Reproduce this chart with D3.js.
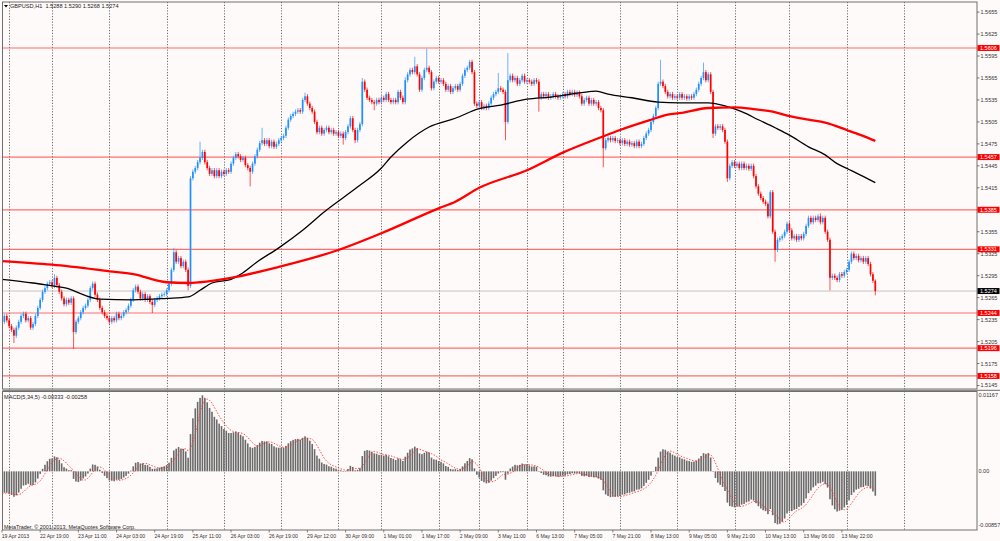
<!DOCTYPE html>
<html><head><meta charset="utf-8">
<script src="https://cdn.jsdelivr.net/npm/d3@7/dist/d3.min.js"></script>
<style>html,body{margin:0;padding:0;background:#fffafa;}svg{display:block;}</style>
</head><body>
<svg id="c" width="1000" height="541"></svg>
<script>
// ---------------- DATA ----------------
const symbolName = "GBPUSD,H1";
const lastOHLC = [1.5288, 1.5290, 1.5268, 1.5274];
const macdHeaderValues = [-0.00333, -0.00258];
const firstOpen = 1.5251;
const closes = [
1.5232,1.5240,1.5234,1.5226,1.5221,1.5213,1.5224,1.5232,1.5240,1.5243,
1.5234,1.5237,1.5224,1.5229,1.5240,1.5251,1.5262,1.5273,1.5278,1.5284,
1.5286,1.5281,1.5292,1.5282,1.5273,1.5264,1.5256,1.5262,1.5258,1.5264,
1.5218,1.5232,1.5237,1.5245,1.5251,1.5254,1.5262,1.5278,1.5284,1.5269,
1.5262,1.5251,1.5245,1.5240,1.5237,1.5232,1.5237,1.5234,1.5243,1.5237,
1.5240,1.5245,1.5248,1.5254,1.5262,1.5275,1.5280,1.5273,1.5264,1.5270,
1.5262,1.5267,1.5259,1.5255,1.5262,1.5264,1.5267,1.5269,1.5270,1.5275,
1.5284,1.5303,1.5327,1.5314,1.5319,1.5308,1.5314,1.5303,1.5281,1.5428,
1.5437,1.5442,1.5450,1.5456,1.5464,1.5450,1.5442,1.5434,1.5439,1.5431,
1.5439,1.5431,1.5437,1.5434,1.5439,1.5437,1.5448,1.5456,1.5461,1.5458,
1.5453,1.5456,1.5446,1.5442,1.5437,1.5448,1.5458,1.5467,1.5476,1.5480,
1.5475,1.5480,1.5472,1.5478,1.5471,1.5475,1.5480,1.5483,1.5486,1.5497,
1.5508,1.5513,1.5516,1.5519,1.5521,1.5519,1.5535,1.5540,1.5530,1.5524,
1.5519,1.5505,1.5491,1.5497,1.5489,1.5494,1.5497,1.5491,1.5494,1.5489,
1.5491,1.5486,1.5489,1.5483,1.5491,1.5499,1.5510,1.5494,1.5480,1.5494,
1.5502,1.5560,1.5549,1.5538,1.5535,1.5532,1.5530,1.5535,1.5532,1.5538,
1.5535,1.5543,1.5535,1.5532,1.5535,1.5532,1.5546,1.5538,1.5532,1.5562,
1.5570,1.5576,1.5573,1.5581,1.5570,1.5549,1.5565,1.5576,1.5579,1.5573,
1.5551,1.5560,1.5565,1.5560,1.5562,1.5557,1.5549,1.5554,1.5546,1.5551,
1.5554,1.5549,1.5557,1.5568,1.5576,1.5579,1.5587,1.5573,1.5530,1.5527,
1.5532,1.5524,1.5527,1.5524,1.5530,1.5538,1.5543,1.5546,1.5551,1.5549,
1.5546,1.5505,1.5562,1.5568,1.5562,1.5565,1.5557,1.5562,1.5568,1.5560,
1.5562,1.5560,1.5557,1.5562,1.5560,1.5538,1.5543,1.5540,1.5543,1.5538,
1.5540,1.5543,1.5540,1.5538,1.5540,1.5543,1.5540,1.5546,1.5543,1.5546,
1.5542,1.5545,1.5540,1.5530,1.5535,1.5538,1.5530,1.5535,1.5530,1.5532,
1.5524,1.5521,1.5469,1.5480,1.5483,1.5480,1.5483,1.5479,1.5480,1.5476,
1.5480,1.5475,1.5478,1.5474,1.5476,1.5472,1.5478,1.5472,1.5475,1.5483,
1.5489,1.5494,1.5505,1.5513,1.5524,1.5557,1.5560,1.5554,1.5546,1.5540,
1.5543,1.5538,1.5540,1.5538,1.5543,1.5538,1.5540,1.5537,1.5540,1.5538,
1.5543,1.5549,1.5557,1.5565,1.5573,1.5562,1.5570,1.5546,1.5489,1.5499,
1.5497,1.5499,1.5494,1.5478,1.5428,1.5445,1.5450,1.5445,1.5448,1.5442,
1.5448,1.5442,1.5445,1.5441,1.5445,1.5431,1.5417,1.5407,1.5401,1.5396,
1.5393,1.5376,1.5409,1.5355,1.5330,1.5344,1.5346,1.5349,1.5355,1.5366,
1.5357,1.5346,1.5349,1.5344,1.5349,1.5346,1.5352,1.5363,1.5374,1.5368,
1.5374,1.5371,1.5376,1.5368,1.5374,1.5355,1.5344,1.5292,1.5295,1.5292,
1.5289,1.5297,1.5295,1.5300,1.5303,1.5314,1.5325,1.5319,1.5322,1.5316,
1.5319,1.5314,1.5319,1.5311,1.5297,1.5288,1.5274
];
const spikeHigh = {22:1.5297,72:1.5333,83:1.5478,109:1.5497,127:1.5545,151:1.5565,169:1.5566,173:1.5594,178:1.5605,196:1.5590,208:1.5572,212:1.5599,276:1.5590,294:1.5586,343:1.5380,366:1.5290};
const spikeLow = {5:1.5203,30:1.5195,63:1.5244,78:1.5275,104:1.5417,143:1.5474,148:1.5476,156:1.5521,211:1.5480,225:1.5519,252:1.5443,298:1.5483,304:1.5423,324:1.5314,347:1.5275,366:1.5268};

const maBlackIdx = [0,13,21,27,34,41,55,69,78,83,88,96,101,107,116,126,135,149,159,163,170,179,190,200,209,220,230,243,249,254,264,275,284,296,303,310,317,324,330,338,345,350,355,360,366];
const maBlackVal = [1.5290,1.5285,1.5281,1.5278,1.5269,1.5263,1.5262,1.5264,1.5266,1.5275,1.5285,1.5290,1.5299,1.5314,1.5333,1.5357,1.5382,1.5416,1.5442,1.5457,1.5478,1.5498,1.5510,1.5523,1.5528,1.5536,1.5539,1.5545,1.5547,1.5543,1.5538,1.5532,1.5531,1.5531,1.5527,1.5519,1.5508,1.5497,1.5487,1.5471,1.5460,1.5448,1.5440,1.5432,1.5422];
const maRedIdx = [0,21,45,55,69,78,83,96,116,140,159,183,190,200,220,235,251,259,272,279,284,296,307,316,323,330,338,345,354,360,366];
const maRedVal = [1.5315,1.5310,1.5301,1.5297,1.5286,1.5285,1.5286,1.5292,1.5307,1.5329,1.5353,1.5387,1.5396,1.5415,1.5439,1.5463,1.5484,1.5494,1.5508,1.5515,1.5517,1.5524,1.5525,1.5522,1.5519,1.5513,1.5508,1.5504,1.5494,1.5487,1.5479];

const levels = [1.5606,1.5457,1.5385,1.5331,1.5244,1.5196,1.5158];
const currentPrice = 1.5274;
const priceTicks = [1.5145,1.5175,1.5205,1.5235,1.5265,1.5295,1.5325,1.5355,1.5385,1.5415,1.5445,1.5475,1.5505,1.5535,1.5565,1.5595,1.5625,1.5655];
const timeLabels = ["19 Apr 2013","22 Apr 19:00","23 Apr 11:00","24 Apr 03:00","24 Apr 19:00","25 Apr 11:00","26 Apr 03:00","26 Apr 19:00","29 Apr 12:00","30 Apr 09:00","1 May 01:00","1 May 17:00","2 May 09:00","3 May 11:00","6 May 13:00","7 May 05:00","7 May 21:00","8 May 13:00","9 May 05:00","9 May 21:00","10 May 13:00","13 May 06:00","13 May 22:00"];
const labelEvery = 16;
const gridBars = [3,21,45,69,93,117,141,159,183,200,220,235,259,283,307,330,354,378];
const macdParams = [5,34,5];
const macdSeedFast = 1.5245, macdSeedSlow = 1.5276;
const macdRange = [-0.00857, 0.01167];
const macdAxisLabels = ["0.01167","0.00","-0.00857"];

// ---------------- LAYOUT ----------------
const L = 2.5, R = 977, T = 2, MB = 389, ST = 391.5, SB = 530;
const FONT = "'Liberation Sans', Arial, sans-serif";
const N = closes.length;
const svg = d3.select("#c");
svg.append("rect").attr("width",1000).attr("height",541).attr("fill","#fffafa");

const x = d3.scaleLinear().domain([0, N-1]).range([2, 875.3]);
const y = d3.scaleLinear().domain([1.51402, 1.56688]).range([MB, T]);
const ym = d3.scaleLinear().domain(macdRange).range([SB, ST]);

const defs = svg.append("defs");
defs.append("clipPath").attr("id","cm").append("rect").attr("x",L).attr("y",T).attr("width",R-L).attr("height",MB-T);
defs.append("clipPath").attr("id","cs").append("rect").attr("x",L).attr("y",ST).attr("width",R-L).attr("height",SB-ST);

// grid (dotted verticals)
svg.append("g").selectAll("line").data(gridBars).join("line")
  .attr("x1",d=>Math.round(x(d))+0.5).attr("x2",d=>Math.round(x(d))+0.5)
  .attr("y1",T).attr("y2",SB)
  .attr("stroke","#4a4a4a").attr("stroke-width",0.8).attr("stroke-dasharray","1.2,1.6");

// level lines
const gm = svg.append("g").attr("clip-path","url(#cm)");
gm.selectAll("line.lv").data(levels).join("line").attr("class","lv")
  .attr("x1",L).attr("x2",R).attr("y1",d=>y(d)).attr("y2",d=>y(d))
  .attr("stroke","#ff5555").attr("stroke-opacity",0.85).attr("stroke-width",1.2);
gm.append("line").attr("x1",L).attr("x2",R).attr("y1",y(currentPrice)).attr("y2",y(currentPrice))
  .attr("stroke","#c4c4c4").attr("stroke-width",1);

// candles
const bars = closes.map((c,i)=>{
  const o = i===0 ? firstOpen : (i===N-1 ? lastOHLC[0] : closes[i-1]);
  const wickPad = 0.0003;
  const h = spikeHigh[i] !== undefined ? spikeHigh[i] : Math.max(o,c)+wickPad;
  const l = spikeLow[i] !== undefined ? spikeLow[i] : Math.min(o,c)-wickPad;
  return {i,o,c,h,l,up:c>=o};
});
const cg = gm.append("g");
cg.selectAll("line").data(bars).join("line")
  .attr("x1",d=>x(d.i)).attr("x2",d=>x(d.i)).attr("y1",d=>y(d.h)).attr("y2",d=>y(d.l))
  .attr("stroke",d=>d.up?"#1e90ff":"#ff0000").attr("stroke-width",0.9).attr("stroke-opacity",0.75);
cg.selectAll("rect").data(bars).join("rect")
  .attr("x",d=>x(d.i)-0.85).attr("width",1.7)
  .attr("y",d=>y(Math.max(d.o,d.c))).attr("height",d=>Math.max(0.8,Math.abs(y(d.o)-y(d.c))))
  .attr("fill",d=>d.up?"#1e90ff":"#ff0000");

// moving averages
const line = d3.line().x(d=>x(d[0])).y(d=>y(d[1])).curve(d3.curveMonotoneX);
gm.append("path").datum(maBlackIdx.map((v,k)=>[v,maBlackVal[k]])).attr("d",line)
  .attr("fill","none").attr("stroke","#000").attr("stroke-width",1.3);
gm.append("path").datum(maRedIdx.map((v,k)=>[v,maRedVal[k]])).attr("d",line)
  .attr("fill","none").attr("stroke","#ff0000").attr("stroke-width",2.3);

// MACD
const kF = 2/(macdParams[0]+1), kS = 2/(macdParams[1]+1);
let ef = macdSeedFast, es = macdSeedSlow;
const macd = closes.map(c=>{ ef += kF*(c-ef); es += kS*(c-es); return ef-es; });
const signal = macd.map((v,i)=>{ const s = macd.slice(Math.max(0,i-macdParams[2]+1), i+1); return d3.mean(s); });
const gs = svg.append("g").attr("clip-path","url(#cs)");
gs.selectAll("rect").data(macd).join("rect")
  .attr("x",(d,i)=>x(i)-0.8).attr("width",1.6)
  .attr("y",d=>Math.min(ym(d),ym(0))).attr("height",d=>Math.max(0.5,Math.abs(ym(d)-ym(0))))
  .attr("fill","#6a6a6a");
gs.append("path").datum(signal).attr("d",d3.line().x((d,i)=>x(i)).y(d=>ym(d)))
  .attr("fill","none").attr("stroke","#ff3b3b").attr("stroke-width",0.9).attr("stroke-dasharray","1.5,1.5");

// frames
svg.append("rect").attr("x",L).attr("y",T).attr("width",R-L).attr("height",MB-T).attr("fill","none").attr("stroke","#6e6e6e").attr("stroke-width",1);
svg.append("rect").attr("x",L).attr("y",ST).attr("width",R-L).attr("height",SB-ST).attr("fill","none").attr("stroke","#6e6e6e").attr("stroke-width",1);
svg.append("line").attr("x1",L).attr("x2",1000).attr("y1",390.3).attr("y2",390.3).attr("stroke","#888").attr("stroke-width",1.2);

// price axis
const ax = svg.append("g").attr("font-family",FONT).attr("font-size",5.5).attr("fill","#333");
priceTicks.forEach(p=>{
  ax.append("line").attr("x1",R).attr("x2",R+2.5).attr("y1",y(p)).attr("y2",y(p)).attr("stroke","#555").attr("stroke-width",0.8);
  ax.append("text").attr("x",R+3.5).attr("y",y(p)+2).text(p.toFixed(4));
});
levels.forEach(p=>{
  ax.append("rect").attr("x",R+0.5).attr("y",y(p)-3).attr("width",22).attr("height",6).attr("fill","#ff0000");
  ax.append("text").attr("x",R+3).attr("y",y(p)+2).attr("fill","#fff").text(p.toFixed(4));
});
ax.append("rect").attr("x",R+0.5).attr("y",y(currentPrice)-3).attr("width",22).attr("height",6).attr("fill","#000");
ax.append("text").attr("x",R+3).attr("y",y(currentPrice)+2).attr("fill","#fff").text(currentPrice.toFixed(4));

// macd axis
const macdLabY = [ST+5, ym(0)+2, SB-3];
macdAxisLabels.forEach((t,k)=>{
  ax.append("text").attr("x",R+1.5).attr("y",macdLabY[k]).text(t);
});

// time axis
const tx = svg.append("g").attr("font-family",FONT).attr("font-size",5.1).attr("fill","#333");
timeLabels.forEach((t,k)=>{
  const xi = x(k*labelEvery);
  tx.append("line").attr("x1",xi).attr("x2",xi).attr("y1",SB).attr("y2",SB+2.5).attr("stroke","#555").attr("stroke-width",0.7);
  tx.append("text").attr("x",xi-0.3).attr("y",537.5).text(t);
});

// titles
const tt = svg.append("g").attr("font-family",FONT).attr("font-size",5.6).attr("fill","#222");
tt.append("path").attr("d","M4,5 L8,5 L6,7.5 Z").attr("fill","#000");
tt.append("text").attr("x",10).attr("y",7.8).attr("xml:space","preserve")
  .text(symbolName + "  " + lastOHLC.map(v=>v.toFixed(4)).join(" "));
tt.append("text").attr("x",4).attr("y",399)
  .text("MACD(" + macdParams.join(",") + ") " + macdHeaderValues.map(v=>v.toFixed(5)).join(" "));
tt.append("text").attr("x",4).attr("y",528.5).attr("font-size",5.4)
  .text("MetaTrader, \u00a9 2001-2013, MetaQuotes Software Corp.");
</script>
</body></html>
